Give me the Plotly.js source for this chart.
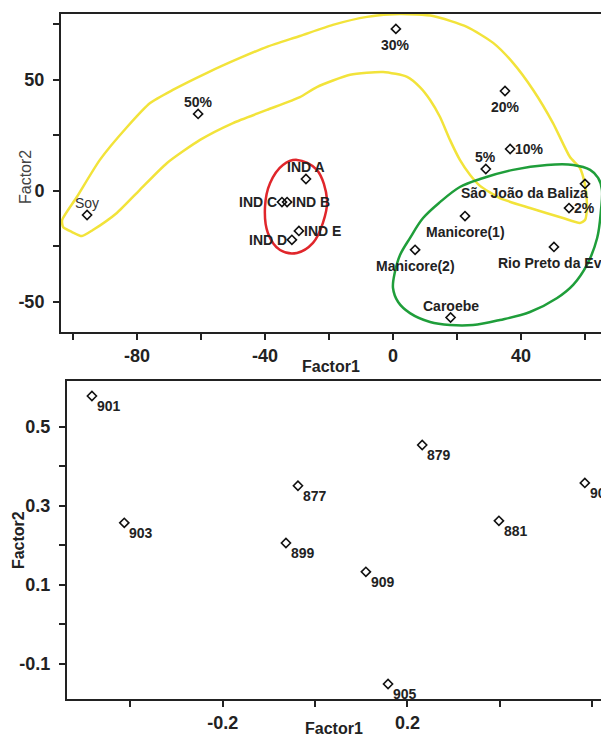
<!DOCTYPE html>
<html>
<head>
<meta charset="utf-8">
<script src="https://cdn.plot.ly/plotly-3.0.1.min.js"></script>
<style>html,body{margin:0;padding:0;background:#fff;}#chart{width:601px;height:741px;}</style>
</head>
<body>
<div id="chart"></div>
<script>
// ---- Top panel data (Factor1 / Factor2 scores) ----
const topNames = ['Soy','50%','30%','20%','10%','5%','São João da Baliza','2%','Manicore(1)','Manicore(2)','Rio Preto da Eva','Caroebe','IND A','IND B','IND C','IND D','IND E'];
const topF1 = [-95.6,-60.9,0.9,35.0,36.6,29.0,60.0,55.0,22.5,6.9,50.3,18.0,-27.2,-33.1,-34.7,-31.6,-29.4];
const topF2 = [-10.8,34.7,73.0,45.0,18.9,9.9,3.2,-7.7,-11.3,-26.5,-25.2,-57.0,5.4,-5.0,-5.0,-22.0,-18.0];
const topLabelPlace = ['above','above','below','below','right','above','belowleft','right','below','below','below','above','above','right','left','left','right'];

// hand-drawn group outlines (data units)
const yellowF1 = [-103.4,-98.8,-91.6,-83.1,-75.9,-68.8,-58.1,-47.8,-39.4,-29.1,-18.8,-8.1,2.2,12.5,23.1,31.3,37.5,43.8,50.0,55.3,58.4,60.0,60.6,60.0,58.4,53.1,42.8,33.4,27.2,24.1,20.9,17.8,14.7,11.6,8.4,4.4,-3.1,-13.4,-23.8,-29.1,-39.4,-50.0,-60.3,-70.6,-79.1,-86.3,-93.8,-97.2,-100.3,-103.1,-103.4];
const yellowF2 = [-13.1,-2.7,14.0,28.8,39.6,45.5,53.2,59.9,64.9,69.8,74.8,78.4,79.7,78.8,73.9,66.7,57.7,45.5,30.6,15.3,10.4,2.7,-6.3,-13.1,-14.4,-12.2,-7.7,-3.2,2.3,7.2,14.0,23.0,33.3,41.0,46.8,51.4,53.6,52.3,46.8,42.3,36.5,30.6,23.0,12.6,0.5,-9.9,-17.6,-20.3,-18.5,-16.2,-13.1];
const redF1 = [-30.0,-23.8,-20.6,-21.9,-25.0,-30.0,-35.3,-39.1,-40.0,-38.4,-34.4,-30.0];
const redF2 = [14.0,9.5,-4.1,-14.4,-23.4,-27.9,-26.6,-18.9,-7.2,3.6,11.7,14.0];
const greenF1 = [0.0,0.6,2.2,5.3,9.4,14.7,20.9,27.2,37.5,48.1,56.3,61.6,64.1,65.3,65.0,63.8,60.6,56.3,51.3,42.8,33.4,25.0,17.8,11.6,5.3,1.6,0.0];
const greenF2 = [-43.7,-36.5,-28.8,-21.2,-12.2,-5.0,1.8,5.4,9.5,11.7,11.7,9.5,5.9,0.5,-8.6,-21.2,-33.3,-42.3,-48.2,-54.5,-58.1,-60.4,-60.4,-59.0,-55.0,-50.0,-43.7];

// ---- Bottom panel data ----
const botNames = ['901','903','899','877','879','909','905','881','907'];
const botF1 = [-0.483,-0.413,-0.063,-0.037,0.232,0.110,0.158,0.398,0.584];
const botF2 = [0.578,0.257,0.206,0.351,0.454,0.133,-0.151,0.262,0.358];

// ---- tick labels ----
const topXTicks = [-100,-80,-60,-40,-20,0,20,40,60];
const topXText = ['','-80','','-40','','0','','40',''];
const topYTicks = [-50,-25,0,25,50,75];
const topYText = ['-50','','0','','50',''];
const botXTicks = [-0.4,-0.2,0.0,0.2,0.4,0.6];
const botXText = ['','-0.2','','0.2','','0.6'];
const botYTicks = [-0.1,0.0,0.1,0.2,0.3,0.4,0.5];
const botYText = ['-0.1','','0.1','','0.3','','0.5'];

const FONT = 'Liberation Sans, Arial, sans-serif';
const markerStyle = {symbol:'diamond-open', size:7, color:'#111', line:{width:1.6, color:'#111'}};

// label placement styles
const PLACE = {
  above:     {xanchor:'center', yanchor:'middle', xshift:0,  yshift:12},
  below:     {xanchor:'center', yanchor:'middle', xshift:0,  yshift:-16},
  right:     {xanchor:'left',   yanchor:'middle', xshift:4,  yshift:0},
  left:      {xanchor:'right',  yanchor:'middle', xshift:-4, yshift:0},
  belowleft: {xanchor:'right',  yanchor:'middle', xshift:4,  yshift:-9},
  botright:  {xanchor:'left',   yanchor:'middle', xshift:4,  yshift:-10}
};

const traces = [
  {x:yellowF1, y:yellowF2, xaxis:'x', yaxis:'y', mode:'lines', line:{color:'#f2e33a', width:2.5, shape:'spline', smoothing:0.6}, hoverinfo:'skip'},
  {x:redF1, y:redF2, xaxis:'x', yaxis:'y', mode:'lines', line:{color:'#e0262b', width:2.5, shape:'spline', smoothing:1}, hoverinfo:'skip'},
  {x:greenF1, y:greenF2, xaxis:'x', yaxis:'y', mode:'lines', line:{color:'#1f9e3a', width:2.5, shape:'spline', smoothing:1}, hoverinfo:'skip'},
  {x:topF1, y:topF2, xaxis:'x', yaxis:'y', mode:'markers', marker:markerStyle, cliponaxis:true},
  {x:botF1, y:botF2, xaxis:'x2', yaxis:'y2', mode:'markers', marker:markerStyle, cliponaxis:true}
];

const annotations = [];
topNames.forEach((name,i)=>{
  const p = PLACE[topLabelPlace[i]];
  const isSoy = name === 'Soy';
  annotations.push(Object.assign({text:name, x:topF1[i], y:topF2[i], xref:'x', yref:'y', showarrow:false, borderpad:0,
    font:{family:FONT, size:14, color:isSoy?'#333':'#222', weight:isSoy?'normal':'bold'}}, p));
});
botNames.forEach((name,i)=>{
  annotations.push(Object.assign({text:name, x:botF1[i], y:botF2[i], xref:'x2', yref:'y2', showarrow:false, borderpad:0,
    font:{family:FONT, size:14, color:'#222', weight:'bold'}}, PLACE.botright));
});
annotations.push(
  {text:'Factor1', xref:'paper', yref:'paper', x:0.5, y:0.5358, yanchor:'middle', xanchor:'center', yshift:-35, showarrow:false, font:{family:FONT, size:16, color:'#222', weight:'bold'}},
  {text:'Factor2', xref:'paper', yref:'paper', x:0, xanchor:'center', yanchor:'middle', xshift:-36, y:0.762, textangle:-90, showarrow:false, font:{family:FONT, size:16, color:'#444'}},
  {text:'Factor1', xref:'paper', yref:'paper', x:0.506, y:0, yanchor:'middle', xanchor:'center', yshift:-29, showarrow:false, font:{family:FONT, size:16, color:'#222', weight:'bold'}},
  {text:'Factor2', xref:'paper', yref:'paper', x:0, xanchor:'center', yanchor:'middle', xshift:-43, y:0.232, textangle:-90, showarrow:false, font:{family:FONT, size:16, color:'#222', weight:'bold'}}
);

const axisCommon = {
  showgrid:false, zeroline:false, showline:true, linecolor:'#222', linewidth:2,
  ticks:'outside', ticklen:6, tickwidth:2, tickcolor:'#222', tickmode:'array',
  tickfont:{family:FONT, size:18, color:'#222', weight:'bold'}, fixedrange:true
};

const layout = {
  width:601, height:741, paper_bgcolor:'#fff', plot_bgcolor:'#fff',
  margin:{l:61, r:0, t:14, b:42}, showlegend:false, hovermode:false,
  xaxis:Object.assign({}, axisCommon, {domain:[0,1], anchor:'y', range:[-103.75,65], tickvals:topXTicks, ticktext:topXText, mirror:true, ticklabelstandoff:0}),
  yaxis:Object.assign({}, axisCommon, {domain:[0.5358,1], anchor:'x', range:[-63.5,79.7], tickvals:topYTicks, ticktext:topYText, ticklabelstandoff:5}),
  xaxis2:Object.assign({}, axisCommon, {domain:[0.0111,1], anchor:'y2', range:[-0.537,0.619], tickvals:botXTicks, ticktext:botXText, mirror:true, ticklabelstandoff:0}),
  yaxis2:Object.assign({}, axisCommon, {domain:[0,0.4642], anchor:'x2', range:[-0.189,0.616], tickvals:botYTicks, ticktext:botYText, ticklabelstandoff:5}),
  annotations:annotations
};

Plotly.newPlot('chart', traces, layout, {displayModeBar:false, staticPlot:true});
</script>
</body>
</html>
